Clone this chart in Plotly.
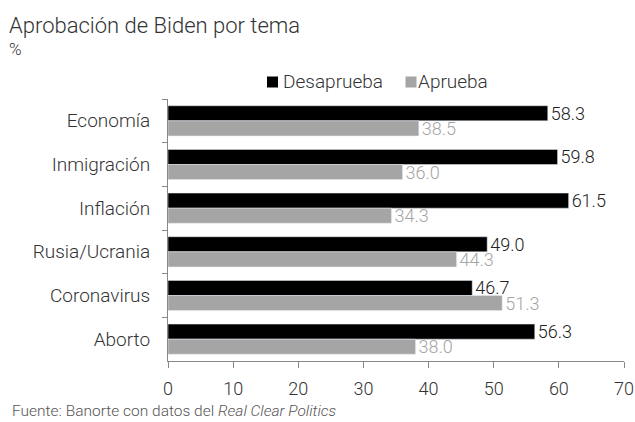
import plotly.graph_objects as go

categories = ["Economía", "Inmigración", "Inflación", "Rusia/Ucrania", "Coronavirus", "Aborto"]
desaprueba = [58.3, 59.8, 61.5, 49.0, 46.7, 56.3]
aprueba = [38.5, 36.0, 34.3, 44.3, 51.3, 38.0]
series_names = ["Desaprueba", "Aprueba"]
x_ticks = [0, 10, 20, 30, 40, 50, 60, 70]

FONT = "Roboto"
W = 300
BLACK = "#000000"
GRAY = "#a5a5a5"
TXT = "#333333"

fig = go.Figure()
fig.add_trace(go.Bar(
    y=categories, x=desaprueba, orientation="h", name=series_names[0],
    marker=dict(color=BLACK),
    text=[f"{v:.1f}" for v in desaprueba], textposition="outside", constraintext="none",
    textfont=dict(color="#222222", size=18, family=FONT, weight=W),
    cliponaxis=False,
))
fig.add_trace(go.Bar(
    y=categories, x=aprueba, orientation="h", name=series_names[1],
    marker=dict(color=GRAY),
    text=[f"{v:.1f}" for v in aprueba], textposition="outside", constraintext="none",
    textfont=dict(color=GRAY, size=18, family=FONT, weight=W),
    cliponaxis=False,
))

PW, PH = 456, 262
L, T = 168, 99


def px_x(x):
    return (x - L) / PW


def px_y(y):
    return 1 - (y - T) / PH


fig.update_layout(
    width=635, height=422,
    barmode="group", bargap=0.31, bargroupgap=0,
    plot_bgcolor="white", paper_bgcolor="white",
    font=dict(family=FONT, color=TXT, size=16, weight=W),
    margin=dict(l=L, r=11, t=T, b=61, autoexpand=False),
    showlegend=False,
)

# legend drawn manually (swatch + label)
legend_items = [(series_names[0], BLACK, 267, 282), (series_names[1], GRAY, 405.5, 417)]
for name, col, sx, tx in legend_items:
    fig.add_shape(type="rect", xref="paper", yref="paper",
                  x0=px_x(sx), x1=px_x(sx + 11), y0=px_y(87.5), y1=px_y(76.5),
                  fillcolor=col, line=dict(width=0))
    fig.add_annotation(text=name, xref="paper", yref="paper", x=px_x(tx - 1), y=px_y(82),
                       xanchor="left", yanchor="middle", showarrow=False,
                       font=dict(size=19, color=TXT, weight=W))

fig.add_annotation(text="Aprobación de Biden por tema", xref="paper", yref="paper",
                   x=px_x(7), y=px_y(25), xanchor="left", yanchor="middle",
                   showarrow=False, font=dict(size=22, color=TXT, weight=W))
fig.add_annotation(text="%", xref="paper", yref="paper",
                   x=px_x(7), y=px_y(49), xanchor="left", yanchor="middle",
                   showarrow=False, font=dict(size=17, color=TXT, weight=W))
fig.add_annotation(text="Fuente: Banorte con datos del <i>Real Clear Politics</i>", xref="paper", yref="paper",
                   x=px_x(10), y=px_y(411), xanchor="left", yanchor="middle",
                   showarrow=False, font=dict(size=15.5, color="#555555", weight=W))

fig.update_xaxes(range=[0, 70], tickvals=x_ticks, ticks="outside", ticklen=6, tickcolor="#888888",
                 showline=True, linecolor="#888888", linewidth=1, showgrid=False, zeroline=False,
                 tickfont=dict(size=18, color=TXT, weight=W), automargin=False,
                 ticklabelstandoff=5)
fig.update_yaxes(autorange="reversed", ticks="outside", tickson="boundaries", ticklen=5,
                 tickcolor="#888888", showline=True, linecolor="#888888", linewidth=1,
                 showgrid=False, tickfont=dict(size=19, color=TXT, weight=W),
                 automargin=False, ticklabelstandoff=13)

fig.write_html("out.html")
